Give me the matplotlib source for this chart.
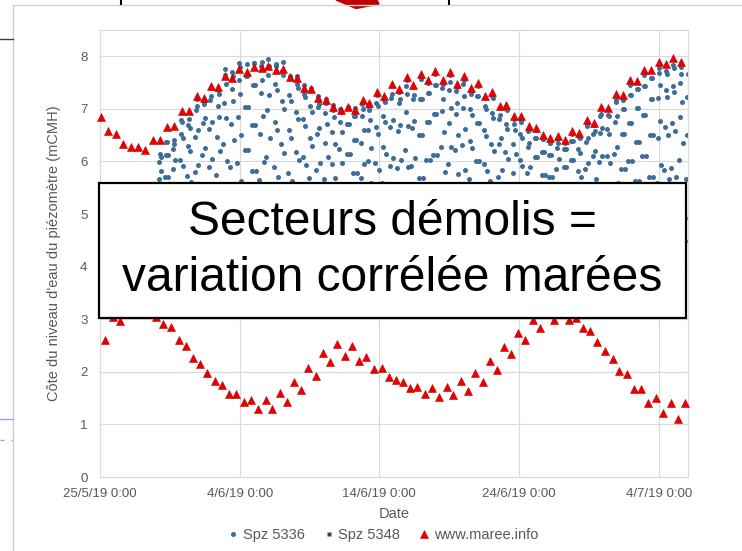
import matplotlib
matplotlib.use('Agg')
import matplotlib.pyplot as plt
import matplotlib.dates as mdates
from matplotlib.patches import Rectangle, Polygon
from matplotlib.lines import Line2D
from matplotlib.ticker import FuncFormatter
import pandas as pd

plt.rcParams['font.family'] = ['Liberation Sans', 'DejaVu Sans']

### Données
# pleines mers (www.maree.info) : jours depuis le 25/5/19 0:00, cote en mCMH
pm_jours = [0.07, 0.60, 1.12, 1.65, 2.20, 2.70, 3.25, 3.77, 4.30, 4.77, 5.30, 5.85, 6.37, 6.92,
            7.44, 7.92, 8.47, 8.95, 9.47, 9.97, 10.50, 11.02, 11.57, 12.05, 12.60, 13.08, 13.60,
            14.12, 14.62, 15.10, 15.63, 16.18, 16.70, 17.22, 17.77, 18.25, 18.80, 19.28, 19.83,
            20.35, 20.88, 21.42, 21.95, 22.42, 22.98, 23.50, 24.00, 24.53, 25.05, 25.53, 26.03,
            26.56, 27.04, 27.58, 28.10, 28.63, 29.10, 29.66, 30.14, 30.69, 31.21, 31.73, 32.23,
            32.76, 33.29, 33.79, 34.31, 34.86, 35.38, 35.86, 36.39, 36.94, 37.46, 37.96, 38.48,
            38.96, 39.48, 40.03, 40.56, 41.06, 41.59]
pm_cote = [6.85, 6.57, 6.52, 6.34, 6.27, 6.28, 6.22, 6.40, 6.40, 6.65, 6.67, 6.96, 6.96, 7.24,
           7.21, 7.44, 7.42, 7.62, 7.58, 7.75, 7.70, 7.79, 7.77, 7.81, 7.74, 7.75, 7.61, 7.58,
           7.40, 7.37, 7.20, 7.16, 7.03, 6.97, 7.03, 6.97, 7.16, 7.11, 7.32, 7.24, 7.48, 7.38,
           7.61, 7.46, 7.67, 7.54, 7.72, 7.55, 7.70, 7.48, 7.62, 7.40, 7.49, 7.25, 7.32, 7.06,
           7.08, 6.86, 6.86, 6.67, 6.64, 6.51, 6.44, 6.48, 6.41, 6.57, 6.54, 6.78, 6.74, 7.03,
           7.02, 7.29, 7.27, 7.55, 7.53, 7.74, 7.73, 7.90, 7.85, 7.96, 7.90]

# basses mers (www.maree.info)
bm_jours = [0.36, 0.90, 1.43, 1.95, 2.47, 2.99, 3.50, 4.02, 4.53, 5.08, 5.65, 6.16, 6.63, 7.16,
            7.68, 8.23, 8.71, 9.23, 9.73, 10.31, 10.81, 11.33, 11.86, 12.35, 12.88, 13.36, 13.89,
            14.39, 14.91, 15.43, 15.94, 16.46, 16.98, 17.54, 18.01, 18.56, 19.08, 19.64, 20.16,
            20.66, 21.19, 21.73, 22.21, 22.73, 23.26, 23.77, 24.29, 24.84, 25.31, 25.84, 26.36,
            26.87, 27.39, 27.92, 28.42, 28.94, 29.42, 29.94, 30.44, 30.97, 31.50, 32.00, 32.52,
            33.03, 33.55, 34.07, 34.60, 35.10, 35.62, 36.17, 36.70, 37.17, 37.70, 38.25, 38.77,
            39.27, 39.80, 40.32, 40.87, 41.40, 41.88]
bm_cote = [2.60, 3.05, 2.96, 3.15, 3.25, 3.30, 3.20, 3.05, 2.91, 2.86, 2.60, 2.49, 2.27, 2.14,
           1.97, 1.83, 1.74, 1.58, 1.58, 1.42, 1.46, 1.29, 1.46, 1.29, 1.59, 1.42, 1.80, 1.66,
           2.07, 1.93, 2.35, 2.18, 2.52, 2.30, 2.49, 2.21, 2.29, 2.06, 2.07, 1.91, 1.85, 1.80,
           1.69, 1.72, 1.58, 1.70, 1.53, 1.72, 1.55, 1.82, 1.63, 1.97, 1.80, 2.20, 2.04, 2.47,
           2.34, 2.74, 2.61, 2.98, 2.84, 3.10, 2.99, 3.12, 2.99, 3.02, 2.84, 2.77, 2.56, 2.39,
           2.25, 2.02, 1.96, 1.67, 1.67, 1.41, 1.50, 1.22, 1.41, 1.11, 1.41]

# piézomètre Spz 5336, une mesure par heure à partir du 29/5/19 0:00 (une ligne = un jour)
spz5336 = [
    4.45, 4.40, 4.51, 4.81, 5.23, 5.66, 5.99, 6.15, 6.08, 5.81, 5.41, 4.97, 4.62, 4.46, 4.75, 5.20, 5.70, 6.13, 6.37, 6.37, 6.13, 5.70, 5.20, 4.75,
    4.46, 4.40, 4.53, 4.88, 5.36, 5.86, 6.24, 6.41, 6.34, 6.03, 5.57, 5.06, 4.65, 4.42, 4.40, 4.50, 4.87, 5.43, 6.03, 6.52, 6.79, 6.75, 6.44, 5.91,
    5.31, 4.78, 4.46, 4.41, 4.66, 5.13, 5.73, 6.29, 6.69, 6.81, 6.63, 6.19, 5.61, 5.02, 4.59, 4.40, 4.40, 4.61, 5.12, 5.80, 6.47, 6.98, 7.19, 7.05,
    6.59, 5.94, 5.25, 4.70, 4.42, 4.47, 4.83, 5.44, 6.13, 6.73, 7.10, 7.13, 6.83, 6.26, 5.58, 4.94, 4.51, 4.63, 5.17, 5.90, 6.62, 7.17, 7.39, 7.24,
    6.75, 6.05, 5.31, 4.72, 4.42, 4.40, 4.55, 5.04, 5.74, 6.47, 7.06, 7.35, 7.28, 6.85, 6.19, 5.45, 4.81, 4.45, 4.81, 5.51, 6.34, 7.12, 7.64, 7.76,
    7.47, 6.83, 6.00, 5.20, 4.62, 4.40, 4.57, 5.12, 5.90, 6.72, 7.38, 7.71, 7.63, 7.15, 6.40, 5.57, 4.86, 4.46, 4.58, 5.16, 5.98, 6.84, 7.54, 7.88,
    7.79, 7.29, 6.51, 5.63, 4.89, 4.46, 4.41, 4.71, 5.37, 6.22, 7.04, 7.63, 7.85, 7.63, 7.04, 6.22, 5.37, 4.71, 4.41, 4.51, 5.02, 5.82, 6.70, 7.46,
    7.88, 7.88, 7.46, 6.70, 5.82, 5.02, 4.51, 4.40, 4.46, 4.89, 5.64, 6.52, 7.31, 7.81, 7.90, 7.55, 6.86, 5.99, 5.16, 4.58, 4.63, 5.24, 6.09, 6.97,
    7.64, 7.95, 7.82, 7.27, 6.45, 5.57, 4.83, 4.44, 4.40, 4.54, 5.08, 5.89, 6.76, 7.47, 7.86, 7.81, 7.35, 6.59, 5.71, 4.95, 4.48, 4.77, 5.46, 6.33,
    7.15, 7.72, 7.90, 7.64, 7.00, 6.16, 5.30, 4.67, 4.40, 4.53, 5.04, 5.79, 6.60, 7.27, 7.63, 7.59, 7.15, 6.44, 5.63, 4.91, 4.48, 4.42, 4.74, 5.38,
    6.18, 6.94, 7.47, 7.63, 7.39, 6.80, 6.02, 5.23, 4.65, 4.42, 4.72, 5.33, 6.08, 6.80, 7.29, 7.45, 7.22, 6.67, 5.93, 5.19, 4.63, 4.52, 4.99, 5.69,
    6.44, 7.06, 7.39, 7.35, 6.95, 6.29, 5.54, 4.87, 4.47, 4.40, 4.62, 5.14, 5.83, 6.52, 7.04, 7.25, 7.10, 6.64, 5.97, 5.27, 4.70, 4.42, 4.40, 4.55,
    5.01, 5.67, 6.36, 6.92, 7.19, 7.12, 6.72, 6.09, 5.39, 4.79, 4.45, 4.43, 4.73, 5.28, 5.95, 6.56, 6.97, 7.07, 6.84, 6.33, 5.68, 5.04, 4.57, 4.40,
    4.54, 4.97, 5.58, 6.23, 6.75, 7.00, 6.94, 6.56, 5.98, 5.32, 4.76, 4.44, 4.40, 4.48, 4.87, 5.47, 6.14, 6.71, 7.04, 7.04, 6.71, 6.14, 5.47, 4.87,
    4.48, 4.64, 5.14, 5.78, 6.40, 6.86, 7.02, 6.86, 6.40, 5.78, 5.14, 4.64, 4.41, 4.40, 4.57, 5.04, 5.69, 6.35, 6.87, 7.10, 7.00, 6.59, 5.96, 5.29,
    4.73, 4.45, 4.77, 5.34, 6.00, 6.60, 6.98, 7.04, 6.78, 6.26, 5.60, 4.97, 4.54, 4.40, 4.42, 4.70, 5.27, 5.98, 6.66, 7.12, 7.27, 7.05, 6.53, 5.84,
    5.14, 4.62, 4.40, 4.51, 4.95, 5.59, 6.28, 6.86, 7.16, 7.13, 6.76, 6.15, 5.45, 4.84, 4.47, 4.40, 4.63, 5.18, 5.92, 6.65, 7.20, 7.43, 7.28, 6.78,
    6.07, 5.32, 4.72, 4.42, 4.40, 4.63, 5.16, 5.87, 6.58, 7.11, 7.33, 7.18, 6.70, 6.02, 5.29, 4.71, 4.42, 4.43, 4.79, 5.44, 6.22, 6.95, 7.43, 7.55,
    7.28, 6.68, 5.90, 5.15, 4.60, 4.63, 5.18, 5.91, 6.64, 7.18, 7.41, 7.26, 6.77, 6.06, 5.32, 4.72, 4.42, 4.40, 4.50, 4.97, 5.69, 6.50, 7.18, 7.57,
    7.57, 7.18, 6.50, 5.69, 4.97, 4.50, 4.41, 4.68, 5.27, 6.03, 6.76, 7.30, 7.49, 7.30, 6.76, 6.03, 5.27, 4.68, 4.41, 4.70, 5.32, 6.12, 6.90, 7.46,
    7.67, 7.46, 6.90, 6.12, 5.32, 4.70, 4.41, 4.45, 4.83, 5.49, 6.27, 6.96, 7.40, 7.48, 7.18, 6.56, 5.80, 5.07, 4.56, 4.40, 4.61, 5.17, 5.95, 6.74,
    7.36, 7.64, 7.52, 7.02, 6.28, 5.47, 4.80, 4.45, 4.82, 5.47, 6.22, 6.90, 7.34, 7.41, 7.11, 6.51, 5.77, 5.05, 4.56, 4.45, 4.84, 5.52, 6.31, 7.02,
    7.47, 7.55, 7.24, 6.61, 5.83, 5.08, 4.56, 4.40, 4.52, 4.98, 5.66, 6.39, 7.00, 7.32, 7.28, 6.89, 6.25, 5.51, 4.86, 4.47, 4.68, 5.25, 6.00, 6.73,
    7.25, 7.44, 7.25, 6.73, 6.00, 5.25, 4.68, 4.41, 4.42, 4.70, 5.25, 5.95, 6.60, 7.06, 7.20, 6.99, 6.48, 5.81, 5.12, 4.62, 4.40, 4.52, 4.96, 5.62,
    6.34, 6.93, 7.24, 7.20, 6.83, 6.20, 5.48, 4.85, 4.47, 4.40, 4.60, 5.07, 5.71, 6.34, 6.81, 7.01, 6.88, 6.45, 5.84, 5.19, 4.68, 4.51, 4.92, 5.52,
    6.18, 6.71, 7.00, 6.97, 6.62, 6.05, 5.39, 4.81, 4.46, 4.40, 4.43, 4.69, 5.19, 5.79, 6.34, 6.71, 6.80, 6.60, 6.14, 5.55, 4.97, 4.55, 4.50, 4.87,
    5.43, 6.03, 6.52, 6.79, 6.75, 6.44, 5.91, 5.31, 4.78, 4.46, 4.40, 4.45, 4.75, 5.23, 5.79, 6.28, 6.57, 6.60, 6.35, 5.90, 5.35, 4.84, 4.49, 4.41,
    4.60, 5.02, 5.55, 6.08, 6.45, 6.59, 6.45, 6.08, 5.55, 5.02, 4.60, 4.41, 4.46, 4.76, 5.23, 5.74, 6.18, 6.43, 6.43, 6.18, 5.74, 5.23, 4.76, 4.46,
    4.46, 4.75, 5.20, 5.70, 6.12, 6.36, 6.36, 6.12, 5.70, 5.20, 4.75, 4.46, 4.40, 4.53, 4.88, 5.37, 5.86, 6.25, 6.42, 6.35, 6.04, 5.57, 5.07, 4.65,
    4.42, 4.41, 4.58, 4.95, 5.43, 5.90, 6.24, 6.36, 6.24, 5.90, 5.43, 4.95, 4.58, 4.41, 4.59, 5.00, 5.52, 6.02, 6.39, 6.52, 6.39, 6.02, 5.52, 5.00,
    4.59, 4.41, 4.49, 4.81, 5.29, 5.81, 6.24, 6.47, 6.44, 6.17, 5.71, 5.19, 4.73, 4.45, 4.40, 4.46, 4.77, 5.28, 5.86, 6.37, 6.68, 6.71, 6.45, 5.97,
    5.39, 4.86, 4.50, 4.40, 4.58, 4.99, 5.55, 6.10, 6.52, 6.69, 6.57, 6.20, 5.66, 5.10, 4.64, 4.46, 4.80, 5.35, 5.99, 6.54, 6.87, 6.90, 6.63, 6.11,
    5.48, 4.90, 4.50, 4.40, 4.50, 4.89, 5.47, 6.10, 6.62, 6.89, 6.86, 6.53, 5.98, 5.35, 4.80, 4.46, 4.40, 4.47, 4.84, 5.45, 6.15, 6.76, 7.13, 7.16,
    6.86, 6.28, 5.59, 4.95, 4.51, 4.41, 4.65, 5.18, 5.86, 6.52, 7.00, 7.17, 7.00, 6.52, 5.86, 5.18, 4.65, 4.41, 4.68, 5.26, 6.01, 6.73, 7.26, 7.45,
    7.26, 6.73, 6.01, 5.26, 4.68, 4.41, 4.49, 4.93, 5.62, 6.37, 7.01, 7.38, 7.38, 7.01, 6.37, 5.62, 4.93, 4.49, 4.69, 5.31, 6.11, 6.88, 7.44, 7.64,
    7.44, 6.88, 6.11, 5.31, 4.69, 4.41, 4.50, 4.97, 5.70, 6.50, 7.19, 7.58, 7.58, 7.19, 6.50, 5.70, 4.97, 4.50, 4.40, 4.46, 4.87, 5.60, 6.45, 7.21,
    7.69, 7.78, 7.45, 6.77, 5.93, 5.13, 4.58, 4.40, 4.54, 5.06, 5.83, 6.66, 7.35, 7.72, 7.67, 7.23, 6.50, 5.66, 4.93, 4.48, 4.54, 5.08, 5.87, 6.74,
    7.44, 7.83, 7.78, 7.32, 6.57, 5.70, 4.94, 4.48, 4.40, 4.62, 5.21, 6.02, 6.85, 7.50, 7.79, 7.66, 7.14, 6.36, 5.52, 4.81, 4.44, 4.48, 4.93, 5.66,
    6.50, 7.23, 7.67,
]

# piézomètre Spz 5348, une valeur par jour à 12:00 à partir du 29/5/19 (sous le cadre)
spz5348 = [4.62, 4.70, 4.78, 4.85, 4.93, 5.01, 5.08, 5.12, 5.15, 5.14, 5.10, 5.04, 4.97, 4.90,
           4.84, 4.80, 4.78, 4.80, 4.86, 4.92, 4.98, 5.03, 5.05, 5.04, 5.00, 4.93, 4.85, 4.77,
           4.70, 4.64, 4.60, 4.61, 4.66, 4.74, 4.83, 4.92, 5.00]

debut = pd.Timestamp('2019-05-25')
t_pm = (debut + pd.to_timedelta(pm_jours, unit='D')).to_numpy()
t_bm = (debut + pd.to_timedelta(bm_jours, unit='D')).to_numpy()
t_5336 = pd.date_range('2019-05-29 00:00', periods=len(spz5336), freq='h').to_numpy()
t_5348 = pd.date_range('2019-05-29 12:00', periods=len(spz5348), freq='D').to_numpy()

gris_texte = '#595959'
gris_grille = '#D9D9D9'

### Figure
W, H = 742, 551
fig = plt.figure(figsize=(W / 100, H / 100), dpi=100)
ax = fig.add_axes([100 / W, 1 - 477 / H, 588 / W, 447 / H])

ax.plot(t_5336, spz5336, ls='none', marker='o', ms=3.6, color='#3E6D9B', mec='none',
        label='Spz 5336', zorder=2)
ax.plot(t_5348, spz5348, ls='none', marker='s', ms=2.2, color='#404040', mec='none',
        label='Spz 5348', zorder=2)
ax.plot(t_pm, pm_cote, ls='none', marker='^', ms=6.3, color='#E60000', mec='#C80000', mew=0.4,
        label='www.maree.info', zorder=3, clip_on=False)
ax.plot(t_bm, bm_cote, ls='none', marker='^', ms=6.3, color='#E60000', mec='#C80000', mew=0.4,
        label='_nolegend_', zorder=3, clip_on=False)

# axes
ax.set_ylim(0, 8.5)
ax.set_yticks(range(0, 9))
ax.set_xlim(mdates.date2num(debut), mdates.date2num(debut + pd.Timedelta(days=42.1)))
graduations = [debut + pd.Timedelta(days=10 * k) for k in range(5)]
ax.set_xticks(mdates.date2num(graduations))


def format_date(x, pos):
    d = mdates.num2date(x)
    return f'{d.day}/{d.month}/{d:%y} {d.hour}:{d.minute:02d}'


ax.xaxis.set_major_formatter(FuncFormatter(format_date))
ax.tick_params(axis='both', length=0, labelsize=9.5, labelcolor=gris_texte)
ax.tick_params(axis='x', pad=8)
ax.tick_params(axis='y', pad=9)
ax.grid(True, color=gris_grille, lw=0.8)
ax.set_axisbelow(True)
for s in ax.spines.values():
    s.set_color(gris_grille)
    s.set_linewidth(0.8)

ax.set_xlabel('Date', fontsize=10.5, color=gris_texte)
ax.xaxis.set_label_coords(0.5, -0.066)
ax.set_ylabel("Côte du niveau d'eau du piézomètre (mCMH)", fontsize=10.5, color=gris_texte)
ax.yaxis.set_label_coords(-0.066, 0.5)

ax.legend(loc='center', bbox_to_anchor=(383 / W, 1 - 535 / H), bbox_transform=fig.transFigure,
          ncol=3, frameon=False, fontsize=10.5, labelcolor=gris_texte, handlelength=0.7,
          handletextpad=0.3, columnspacing=1.3, borderaxespad=0)

# cadre blanc avec le message
ax.add_patch(Rectangle((-0.002, 0.3557), 0.9986, 0.302, transform=ax.transAxes,
                       facecolor='white', edgecolor='black', lw=1.6, zorder=10, clip_on=False))
ax.text(0.497, 0.507, 'Secteurs démolis =\nvariation corrélée marées', transform=ax.transAxes,
        ha='center', va='center', fontsize=34.5, linespacing=1.3, color='black', zorder=11)

### Éléments de la diapositive autour du graphique
def px(x, y):
    return x / W, 1 - y / H


fig.add_artist(Line2D(*zip(px(13, 4.5), px(W, 4.5)), color='#D0D0D0', lw=1))
fig.add_artist(Line2D(*zip(px(13, 4.5), px(13, H)), color='#D0D0D0', lw=1))
fig.add_artist(Line2D(*zip(px(0, 39), px(13, 39)), color='#404040', lw=1))
fig.add_artist(Line2D(*zip(px(121, 0), px(121, 4)), color='black', lw=1.5))
fig.add_artist(Line2D(*zip(px(449, 0), px(449, 4)), color='black', lw=1.5))
fig.add_artist(Line2D(*zip(px(0, 419), px(13, 419)), color='#8FAADC', lw=1))
fig.add_artist(Line2D(*zip(px(0, 440), px(13, 440)), color='#8FAADC', lw=1, ls=(0, (3, 5))))
fig.add_artist(Polygon([px(356, 8.5), px(379, 4), px(377, 0), px(336, 0)], closed=True,
                       transform=fig.transFigure, color='#C00000'))

fig.savefig('out.png', dpi=100)
